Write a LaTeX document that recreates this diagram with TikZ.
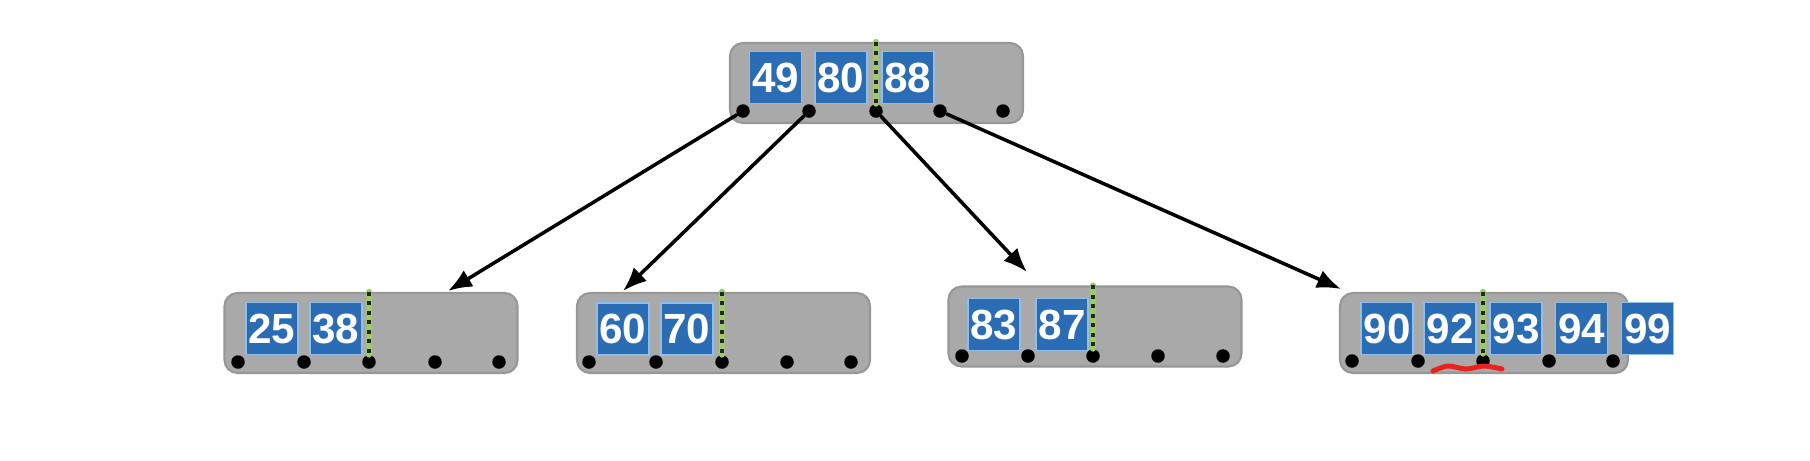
\documentclass[tikz,border=0pt]{standalone}
\usepackage{fontspec}
\setmainfont{Liberation Sans}
\usetikzlibrary{arrows.meta}

\definecolor{boxgray}{HTML}{A9A9A9}
\definecolor{boxedge}{HTML}{979797}
\definecolor{keyblue}{HTML}{2A6DB5}
\definecolor{keyedge}{HTML}{8FBFE8}
\definecolor{divgreen}{HTML}{9CCB6A}
\definecolor{markred}{HTML}{E8231E}

\begin{document}
\begin{tikzpicture}[
		x=0.1mm, y=-0.1mm,
		line cap=round, line join=round,
		nodebox/.style={draw=boxedge, fill=boxgray, line width=0.6pt, rounded corners=1.3mm, minimum width=29.3mm, minimum height=8mm, inner sep=0pt},
		key/.style={draw=keyedge, fill=keyblue, line width=0.5pt, minimum size=5.2mm, inner sep=0pt, text=white, font=\bfseries\fontsize{12}{14}\selectfont},
		dot/.style={circle, fill=black, inner sep=0pt, minimum size=1.35mm},
		divider/.style={draw=divgreen, line width=1.8pt},
		dividerdots/.style={draw=black!85, line width=1.1pt, line cap=butt, dash pattern=on 1.1pt off 1.6pt},
		ptr/.style={draw=black, line width=1pt, -{Latex[length=2.4mm, width=1.9mm]}},
		redmark/.style={draw=markred, line width=1.4pt}
		]
		
		\useasboundingbox (0,0) rectangle (1810,460);
		
		% root
		\node[nodebox] (root) at (876.5,83) {};
		\node[key] (k49) at (775.5,77.5) {49};
		\node[key] (k80) at (841,77.5) {80};
		\node[key] (k88) at (908,77.5) {88};
		\node[dot] (r1) at (743,111) {};
		\node[dot] (r2) at (809,111) {};
		\node[dot] (r3) at (876,111) {};
		\node[dot] (r4) at (940,111) {};
		\node[dot] (r5) at (1003,111) {};
		\draw[divider] (r3 |- root.north) -- (r3);
		\draw[dividerdots] (r3 |- root.north) -- (r3);
		
		% leaf a
		\node[nodebox] (leafA) at (371,333) {};
		\node[key] (k25) at (272,328.5) {25};
		\node[key] (k38) at (336,328.5) {38};
		\node[dot] (a1) at (238,362) {};
		\node[dot] (a2) at (304,362) {};
		\node[dot] (a3) at (369,362) {};
		\node[dot] (a4) at (435,362) {};
		\node[dot] (a5) at (499,362) {};
		\draw[divider] (a3 |- leafA.north) -- (a3);
		\draw[dividerdots] (a3 |- leafA.north) -- (a3);
		
		% leaf b
		\node[nodebox] (leafB) at (723.5,333) {};
		\node[key] (k60) at (623,329) {60};
		\node[key] (k70) at (687,329) {70};
		\node[dot] (b1) at (589,362) {};
		\node[dot] (b2) at (656,362) {};
		\node[dot] (b3) at (722,362) {};
		\node[dot] (b4) at (787,362) {};
		\node[dot] (b5) at (851,362) {};
		\draw[divider] (b3 |- leafB.north) -- (b3);
		\draw[dividerdots] (b3 |- leafB.north) -- (b3);
		
		% leaf c
		\node[nodebox] (leafC) at (1095,326.5) {};
		\node[key] (k83) at (994,324.5) {83};
		\node[key] (k87) at (1062,324.5) {87};
		\node[dot] (c1) at (962,356) {};
		\node[dot] (c2) at (1028,356) {};
		\node[dot] (c3) at (1093,356) {};
		\node[dot] (c4) at (1158,356) {};
		\node[dot] (c5) at (1223,356) {};
		\draw[divider] (c3 |- leafC.north) -- (c3);
		\draw[dividerdots] (c3 |- leafC.north) -- (c3);
		
		% leaf d (overfull)
		\node[nodebox, minimum width=28.8mm] (leafD) at (1484,333) {};
		\node[dot] (d1) at (1352,361) {};
		\node[dot] (d2) at (1418,361) {};
		\node[dot] (d3) at (1483,361) {};
		\node[dot] (d4) at (1549,361) {};
		\node[dot] (d5) at (1613,361) {};
		\draw[divider] (d3 |- leafD.north) -- (d3);
		\draw[dividerdots] (d3 |- leafD.north) -- (d3);
		\node[key] (k90) at (1387,328.5) {90};
		\node[key] (k92) at (1450,328.5) {92};
		\node[key] (k93) at (1516,328.5) {93};
		\node[key] (k94) at (1581.5,328.5) {94};
		\node[key] (k99) at (1647.5,328.5) {99};
		\draw[redmark] plot[smooth] coordinates {(1433,371) (1448,366) (1466,369) (1484,366) (1502,369)};
		
		% pointers
		\coordinate (tA) at (448,291);
		\coordinate (tB) at (623,291);
		\coordinate (tC) at (1027,272);
		\coordinate (tD) at (1341,289);
		\draw[ptr] (r1) -- (tA);
		\draw[ptr] (r2) -- (tB);
		\draw[ptr] (r3) -- (tC);
		\draw[ptr] (r4) -- (tD);
	\end{tikzpicture}
\end{document}
